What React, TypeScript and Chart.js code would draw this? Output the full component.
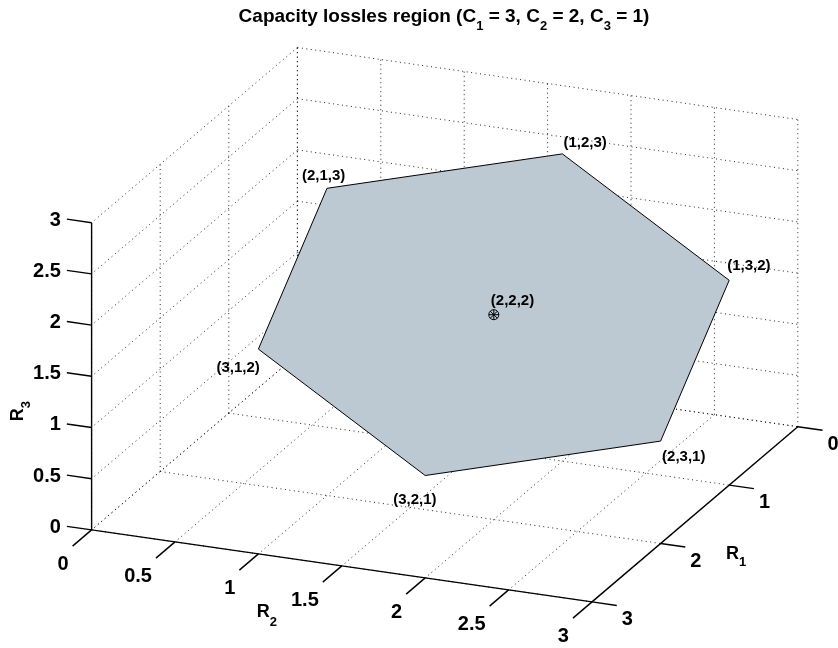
import React, { useEffect, useRef } from "react";
import { Chart, registerables } from "chart.js";

Chart.register(...registerables);

// ---- data ----
const vertexR1 = [1, 1, 2, 3, 3, 2];
const vertexR2 = [2, 3, 3, 2, 1, 1];
const vertexR3 = [3, 2, 1, 1, 2, 3];
const vertexLabels = ["(1,2,3)", "(1,3,2)", "(2,3,1)", "(3,2,1)", "(3,1,2)", "(2,1,3)"];
const centerPoint = [2, 2, 2];
const centerLabel = "(2,2,2)";

const r1Ticks = [0, 1, 2, 3];
const r2Ticks = [0, 0.5, 1, 1.5, 2, 2.5, 3];
const r3Ticks = [0, 0.5, 1, 1.5, 2, 2.5, 3];
const r1TickLabels = ["0", "1", "2", "3"];
const r2TickLabels = ["0", "0.5", "1", "1.5", "2", "2.5", "3"];
const r3TickLabels = ["0", "0.5", "1", "1.5", "2", "2.5", "3"];

const R1_MAX = 3;
const R2_MAX = 3;
const R3_MAX = 3;

// ---- view (3D -> 2D projection, in canvas units) ----
const W = 838;
const H = 648;
const ORIGIN = { x: 297.4, y: 354.7 };
const E1 = { x: -68.6, y: 58.4 };
const E2 = { x: 166.8, y: 24.0 };
const E3 = { x: 0, y: -102.4 };
const TICK_LEN = 25;

const FONT = '"Liberation Sans", Arial, Helvetica, sans-serif';

function proj(r1: number, r2: number, r3: number) {
  return {
    x: ORIGIN.x + r1 * E1.x + r2 * E2.x + r3 * E3.x,
    y: ORIGIN.y + r1 * E1.y + r2 * E2.y + r3 * E3.y,
  };
}
function unit(v: { x: number; y: number }) {
  const l = Math.hypot(v.x, v.y);
  return { x: v.x / l, y: v.y / l };
}

// label offsets (px) relative to their vertex
const vertexLabelOffsets = [
  [1, -11],
  [-2, -14],
  [1.5, 16],
  [-32, 24],
  [-42, 19],
  [-25, -12],
];
const centerLabelOffset = [-3, -14];

function gridDataset(p: any, q: any) {
  return {
    data: [p, q],
    showLine: true,
    borderColor: "rgba(0,0,0,0.85)",
    borderWidth: 1,
    borderDash: [1, 3.5],
    pointRadius: 0,
    fill: false,
    order: 10,
  };
}
function solidDataset(p: any, q: any) {
  return {
    data: [p, q],
    showLine: true,
    borderColor: "#000",
    borderWidth: 1.4,
    pointRadius: 0,
    fill: false,
    order: 5,
  };
}

function buildDatasets() {
  const ds: any[] = [];
  // floor R3 = 0
  r1Ticks.forEach((t) => ds.push(gridDataset(proj(t, 0, 0), proj(t, R2_MAX, 0))));
  r2Ticks.forEach((t) => ds.push(gridDataset(proj(0, t, 0), proj(R1_MAX, t, 0))));
  // wall R2 = 0
  r1Ticks.forEach((t) => ds.push(gridDataset(proj(t, 0, 0), proj(t, 0, R3_MAX))));
  r3Ticks.forEach((t) => ds.push(gridDataset(proj(0, 0, t), proj(R1_MAX, 0, t))));
  // wall R1 = 0
  r2Ticks.forEach((t) => ds.push(gridDataset(proj(0, t, 0), proj(0, t, R3_MAX))));
  r3Ticks.forEach((t) => ds.push(gridDataset(proj(0, 0, t), proj(0, R2_MAX, t))));

  // axes
  ds.push(solidDataset(proj(R1_MAX, 0, 0), proj(R1_MAX, 0, R3_MAX)));
  ds.push(solidDataset(proj(R1_MAX, 0, 0), proj(R1_MAX, R2_MAX, 0)));
  ds.push(solidDataset(proj(0, R2_MAX, 0), proj(R1_MAX, R2_MAX, 0)));
  const d3 = unit({ x: -E2.x, y: -E2.y });
  const d2 = unit(E1);
  const d1 = unit(E2);
  r3Ticks.forEach((t) => {
    const p = proj(R1_MAX, 0, t);
    ds.push(solidDataset(p, { x: p.x + d3.x * TICK_LEN, y: p.y + d3.y * TICK_LEN }));
  });
  r2Ticks.forEach((t) => {
    const p = proj(R1_MAX, t, 0);
    ds.push(solidDataset(p, { x: p.x + d2.x * TICK_LEN, y: p.y + d2.y * TICK_LEN }));
  });
  r1Ticks.forEach((t) => {
    const p = proj(t, R2_MAX, 0);
    ds.push(solidDataset(p, { x: p.x + d1.x * TICK_LEN, y: p.y + d1.y * TICK_LEN }));
  });

  // polygon
  const poly = vertexR1.map((r1, i) => proj(r1, vertexR2[i], vertexR3[i]));
  poly.push(poly[0]);
  ds.push({
    data: poly,
    showLine: true,
    borderColor: "#000",
    borderWidth: 1,
    backgroundColor: "#bcc8d2",
    fill: "shape",
    pointRadius: 0,
    order: 2,
  });

  // center marker
  const c = proj(centerPoint[0], centerPoint[1], centerPoint[2]);
  ds.push({
    data: [c],
    pointStyle: "circle",
    pointRadius: 5,
    pointBorderColor: "#000",
    pointBackgroundColor: "rgba(0,0,0,0)",
    pointBorderWidth: 1,
    order: 0,
  });
  ds.push({
    data: [c],
    pointStyle: "star",
    pointRadius: 5,
    pointBorderColor: "#000",
    pointBackgroundColor: "rgba(0,0,0,0)",
    pointBorderWidth: 1,
    order: 0,
  });
  return ds;
}

type Part = { t: string; sub?: boolean };
function drawRich(ctx: CanvasRenderingContext2D, parts: Part[], x: number, y: number, size: number, subSize: number, subShift: number, align: "left" | "center") {
  const mainFont = `bold ${size}px ${FONT}`;
  const subFont = `bold ${subSize}px ${FONT}`;
  let total = 0;
  parts.forEach((p) => {
    ctx.font = p.sub ? subFont : mainFont;
    total += ctx.measureText(p.t).width;
  });
  let cx = align === "center" ? x - total / 2 : x;
  ctx.textAlign = "left";
  ctx.textBaseline = "alphabetic";
  parts.forEach((p) => {
    ctx.font = p.sub ? subFont : mainFont;
    ctx.fillText(p.t, cx, p.sub ? y + subShift : y);
    cx += ctx.measureText(p.t).width;
  });
}

const textPlugin = {
  id: "texts3d",
  afterDraw(chart: any) {
    const ctx: CanvasRenderingContext2D = chart.ctx;
    const sx = chart.scales.x;
    const sy = chart.scales.y;
    const px = (p: { x: number; y: number }) => ({ x: sx.getPixelForValue(p.x), y: sy.getPixelForValue(p.y) });
    ctx.save();
    ctx.fillStyle = "#000";

    // title
    drawRich(
      ctx,
      [
        { t: "Capacity lossles region (C" },
        { t: "1", sub: true },
        { t: " = 3, C" },
        { t: "2", sub: true },
        { t: " = 2, C" },
        { t: "3", sub: true },
        { t: " = 1)" },
      ],
      444,
      22,
      19,
      13,
      8,
      "center"
    );

    // tick labels
    ctx.font = `bold 20px ${FONT}`;
    const d3 = unit({ x: -E2.x, y: -E2.y });
    const d2 = unit(E1);
    const d1 = unit(E2);
    ctx.textBaseline = "middle";
    ctx.textAlign = "right";
    r3Ticks.forEach((t, i) => {
      const p = px(proj(R1_MAX, 0, t));
      ctx.fillText(r3TickLabels[i], p.x + d3.x * TICK_LEN - 6, p.y + d3.y * TICK_LEN + 1);
    });
    r2Ticks.forEach((t, i) => {
      const p = px(proj(R1_MAX, t, 0));
      ctx.fillText(r2TickLabels[i], p.x + d2.x * TICK_LEN - 4, p.y + d2.y * TICK_LEN + 18);
    });
    ctx.textAlign = "left";
    r1Ticks.forEach((t, i) => {
      const p = px(proj(t, R2_MAX, 0));
      ctx.fillText(r1TickLabels[i], p.x + d1.x * TICK_LEN + 5, p.y + d1.y * TICK_LEN + 14);
    });

    // axis labels
    const a1 = px(proj(1.5, R2_MAX, 0));
    drawRich(ctx, [{ t: "R" }, { t: "1", sub: true }], a1.x + 31, a1.y + 45, 18, 13, 7, "left");
    const a2 = px(proj(R1_MAX, 1.5, 0));
    drawRich(ctx, [{ t: "R" }, { t: "2", sub: true }], a2.x - 85, a2.y + 51, 18, 13, 9, "left");
    const a3 = px(proj(R1_MAX, 0, 1.5));
    ctx.save();
    ctx.translate(a3.x - 69, a3.y + 45);
    ctx.rotate(-Math.PI / 2);
    drawRich(ctx, [{ t: "R" }, { t: "3", sub: true }], 0, 0, 18, 13, 7, "left");
    ctx.restore();

    // vertex labels
    ctx.font = `bold 15px ${FONT}`;
    ctx.textAlign = "left";
    ctx.textBaseline = "middle";
    vertexLabels.forEach((lab, i) => {
      const p = px(proj(vertexR1[i], vertexR2[i], vertexR3[i]));
      ctx.fillText(lab, p.x + vertexLabelOffsets[i][0], p.y + vertexLabelOffsets[i][1]);
    });
    const c = px(proj(centerPoint[0], centerPoint[1], centerPoint[2]));
    ctx.fillText(centerLabel, c.x + centerLabelOffset[0], c.y + centerLabelOffset[1]);

    ctx.restore();
  },
};

export default function App() {
  const ref = useRef<HTMLCanvasElement | null>(null);
  useEffect(() => {
    document.body.style.margin = "0";
    const canvas = ref.current;
    if (!canvas) return;
    const chart = new Chart(canvas, {
      type: "scatter",
      data: { datasets: buildDatasets() },
      options: {
        animation: false,
        responsive: false,
        maintainAspectRatio: false,
        devicePixelRatio: 1,
        layout: { padding: 0, autoPadding: false },
        plugins: {
          legend: { display: false },
          tooltip: { enabled: false },
          title: { display: false },
        },
        events: [],
        scales: {
          x: { type: "linear", min: 0, max: W, display: false },
          y: { type: "linear", min: 0, max: H, reverse: true, display: false },
        },
      },
      plugins: [textPlugin],
    } as any);
    return () => chart.destroy();
  }, []);
  return (
    <div style={{ width: W, height: H, background: "#fff" }}>
      <canvas ref={ref} width={W} height={H} style={{ display: "block" }} />
    </div>
  );
}
